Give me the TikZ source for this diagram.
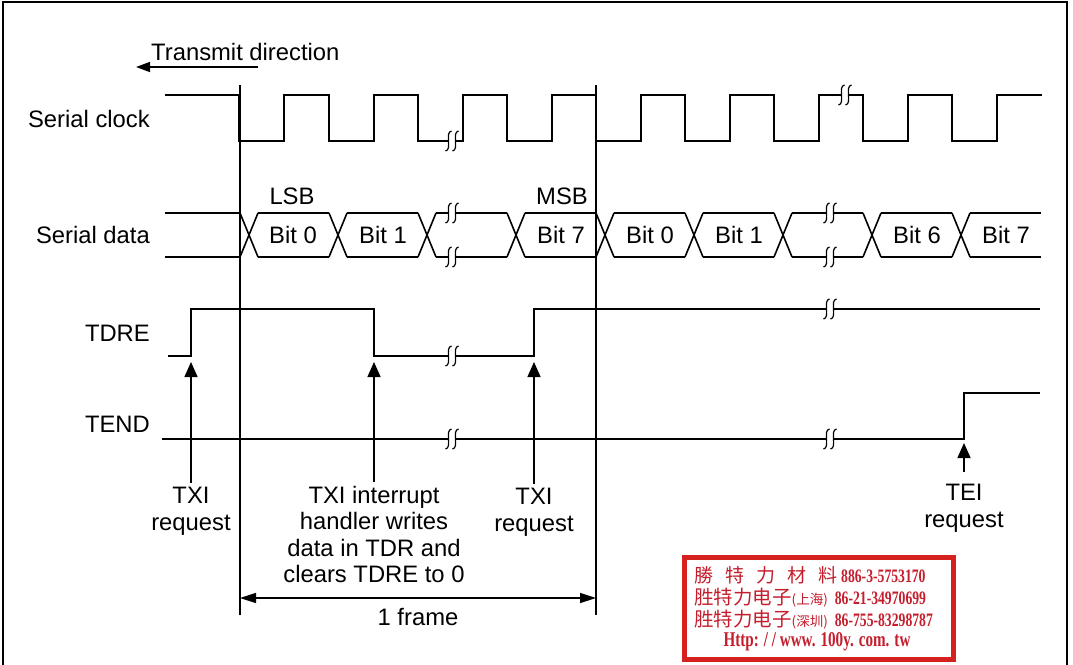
\documentclass[tikz,border=0pt]{standalone}
\usepackage{fontspec}
\setmainfont{Liberation Sans}
\newfontfamily\cjkfont{Noto Sans CJK TC}
\newfontfamily\stampnum[FakeStretch=0.72]{Liberation Serif}
\usetikzlibrary{arrows.meta, positioning, calc}
\definecolor{stampred}{RGB}{214,34,30}
\definecolor{stamptext}{RGB}{196,30,45}

% break mark on a signal line: x, y
\newcommand{\sigbreak}[2]{%
  \fill[white] (#1-3.5,#2-3.5) rectangle (#1+3.5,#2+3.5);
  \foreach \dx in {-3.5,3.5}
    \draw[brk] (#1+\dx+3,#2-10) .. controls (#1+\dx-4,#2-9) and (#1+\dx+4,#2+9) .. (#1+\dx-3,#2+10);
}

\begin{document}
\begin{tikzpicture}[
    x=1pt, y=-1pt,
    wave/.style={line width=1.6pt},
    guide/.style={line width=1.3pt},
    brk/.style={line width=1.2pt},
    lbl/.style={font=\fontsize{23.8}{26.5}\selectfont, inner sep=1pt},
    reqlbl/.style={lbl, align=center},
    reqarrow/.style={-{Triangle[length=15pt,width=13pt]}, line width=1.5pt},
    dirarrow/.style={-{Triangle[length=14pt,width=10pt]}, line width=1.5pt},
    framearrow/.style={{Triangle[length=16pt,width=10pt]}-{Triangle[length=16pt,width=10pt]}, line width=1.3pt},
    stamptxt/.style={text=stamptext, inner sep=0pt, anchor=west}
]
\useasboundingbox (0,0) rectangle (1073,664);

% Outer frame
\draw[line width=1.8pt] (3,680) |- (1067,2) -- (1067,680);

% Transmit direction
\node[lbl, anchor=west] (txdir) at (150,52) {Transmit direction};
\coordinate (dirstart) at (258,67);
\coordinate (dirend) at (136,67);
\draw[dirarrow] (dirstart) -- (dirend);

% Signal names
\node[lbl, anchor=east] (sclk) at (151,119) {Serial clock};
\node[lbl, anchor=east] (sdata) at (151,235) {Serial data};
\node[lbl, anchor=east] (tdre) at (151,333) {TDRE};
\node[lbl, anchor=east] (tend) at (151,424) {TEND};

% Frame boundaries
\draw[guide] (240,85) -- (240,615);
\draw[guide] (596,85) -- (596,615);

% Serial clock
\draw[wave] (165,95) -| (239,141) -| (284,95) -| (329,141) -| (374,95) -| (418,141)
  -| (463,95) -| (507,141) -| (552,95) -| (596,141) -| (641,95) -| (685,141)
  -| (730,95) -| (774,141) -| (819,95) -| (863,141) -| (908,95) -| (952,141)
  -| (997,95) -- (1042,95);

% Serial data
\draw[wave] (165,213) -- (240,213) (165,257) -- (240,257);
\foreach \a in {240,329,418,507,596,685,774,863,952}
  \draw[wave] (\a,213) -- (\a+18,257) (\a,257) -- (\a+18,213);
\foreach \a/\b in {258/329,347/418,436/507,525/596,614/685,703/774,792/863,881/952,970/1041}
  \draw[wave] (\a,213) -- (\b,213) (\a,257) -- (\b,257);

\node[lbl] (bit0a) at (293,235) {Bit 0};
\node[lbl] (bit1a) at (383,235) {Bit 1};
\node[lbl] (bit7a) at (561,235) {Bit 7};
\node[lbl] (bit0b) at (650,235) {Bit 0};
\node[lbl] (bit1b) at (739,235) {Bit 1};
\node[lbl] (bit6b) at (917,235) {Bit 6};
\node[lbl] (bit7b) at (1006,235) {Bit 7};
\node[lbl] (lsb) at (292,196) {LSB};
\node[lbl] (msb) at (562,196) {MSB};

% TDRE
\draw[wave] (168,356) -| (191,309) -| (374,356) -| (534,309) -- (1040,309);

% TEND
\draw[wave] (162,439) -| (964,393) -- (1040,393);

% Breaks
\sigbreak{452}{141}
\sigbreak{845}{95}
\sigbreak{452}{213}
\sigbreak{452}{257}
\sigbreak{830}{213}
\sigbreak{830}{257}
\sigbreak{452}{356}
\sigbreak{830}{309}
\sigbreak{452}{439}
\sigbreak{830}{439}

% Requests
\node[reqlbl, anchor=north] (txireqa) at (191,486) {TXI\\request};
\node[reqlbl, anchor=north] (txihandler) at (374,485) {TXI interrupt\\handler writes\\data in TDR and\\clears TDRE to 0};
\node[reqlbl, anchor=north] (txireqb) at (534,487) {TXI\\request};
\node[reqlbl, anchor=north] (teireq) at (964,483) {TEI\\request};

\coordinate (tdrerisea) at (191,362);
\coordinate (tdrefall) at (374,362);
\coordinate (tdreriseb) at (534,362);
\coordinate (tendrise) at (964,443);

\draw[reqarrow] ([yshift=3pt]txireqa.north) -- (tdrerisea);
\draw[reqarrow] ([yshift=3pt]txihandler.north) -- (tdrefall);
\draw[reqarrow] ([yshift=3pt]txireqb.north) -- (tdreriseb);
\draw[reqarrow] ([yshift=11pt]teireq.north) -- (tendrise);

% 1 frame
\coordinate (fstart) at (240,598);
\coordinate (fend) at (596,598);
\draw[framearrow] (fstart) -- (fend);
\node[lbl] (oneframe) at (418,617) {1 frame};

% Stamp
\draw[line width=5pt, draw=stampred, fill=white] (684.5,557.5) rectangle (953.5,659.5);
\node[stamptxt] (stampa) at (694,575) {\cjkfont\fontsize{19}{19}\selectfont 勝\hspace{12pt}特\hspace{12pt}力\hspace{12pt}材\hspace{12pt}料\hspace{4pt}\stampnum\bfseries\fontsize{19}{19}\selectfont 886-3-5753170};
\node[stamptxt] (stampb) at (694,598) {\cjkfont\fontsize{19.5}{19.5}\selectfont 胜特力电子{\fontsize{13.5}{13.5}\selectfont(上海)}\hspace{7pt}\stampnum\bfseries\fontsize{19}{19}\selectfont 86-21-34970699};
\node[stamptxt] (stampc) at (694,620) {\cjkfont\fontsize{19.5}{19.5}\selectfont 胜特力电子{\fontsize{13.5}{13.5}\selectfont(深圳)}\hspace{7pt}\stampnum\bfseries\fontsize{19}{19}\selectfont 86-755-83298787};
\node[stamptxt, anchor=center] (stampd) at (817,642) {\stampnum\bfseries\fontsize{21}{21}\selectfont Http: / / www. 100y. com. tw};

\end{tikzpicture}
\end{document}
